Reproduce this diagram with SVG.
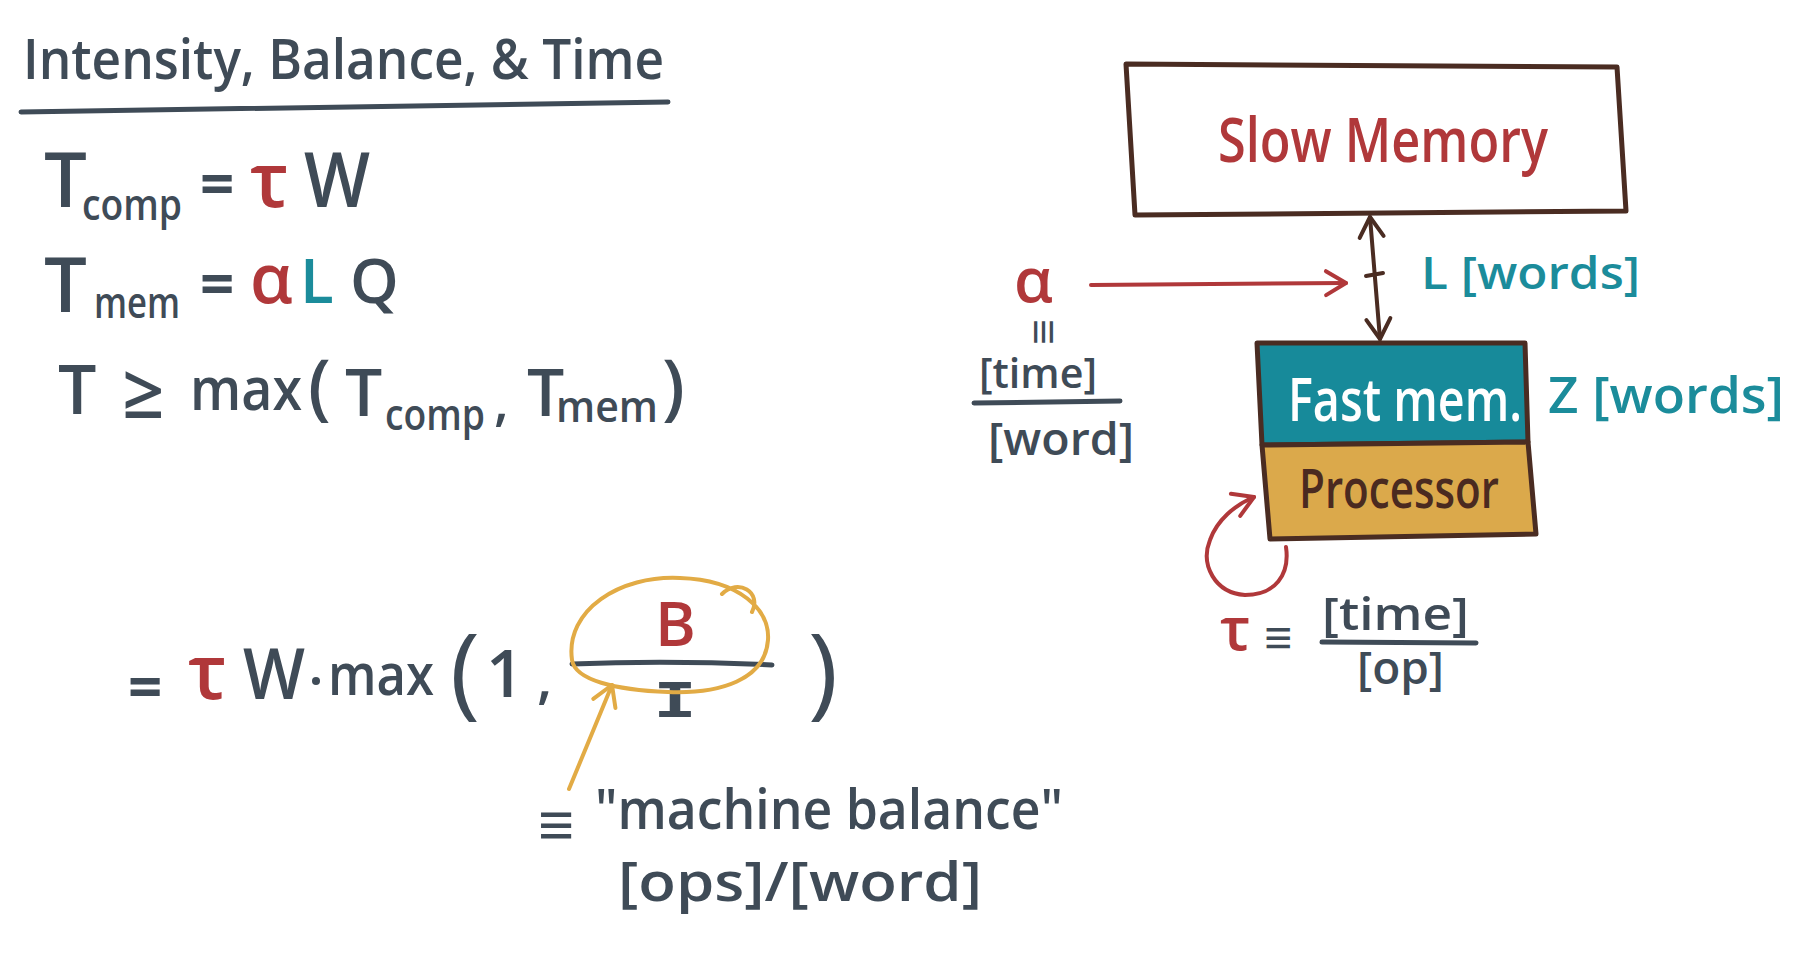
<svg xmlns="http://www.w3.org/2000/svg" width="1811" height="955" viewBox="0 0 1811 955">
<defs>
<style>
text{font-family:"Open Sans","Liberation Sans",sans-serif;font-weight:600}
.ink{fill:#3f4b57}
.red{fill:#b0383a}
.teal{fill:#1b8c9b}
.brown{fill:#4a2a20}
.white{fill:#ffffff}
.thin{font-weight:400}
.bold{font-weight:700}
.mono{font-family:"DejaVu Sans Mono",monospace;font-weight:700}
.box{stroke:#4a2c22;stroke-width:5;stroke-linejoin:round}
.inkline{stroke:#3f4b57;stroke-width:5;stroke-linecap:round;fill:none}
</style>
<marker id="vBrown" markerWidth="8" markerHeight="8" refX="6" refY="4" orient="auto-start-reverse" markerUnits="strokeWidth"><path d="M1 1 L6 4 L1 7" fill="none" stroke="#4a2c22" stroke-width="1" stroke-linecap="round" stroke-linejoin="round"/></marker>
<marker id="vRed" markerWidth="8" markerHeight="8" refX="6" refY="4" orient="auto" markerUnits="strokeWidth"><path d="M1 1 L6 4 L1 7" fill="none" stroke="#b0383a" stroke-width="1" stroke-linecap="round" stroke-linejoin="round"/></marker>
<marker id="vOrange" markerWidth="8" markerHeight="8" refX="6" refY="4" orient="auto" markerUnits="strokeWidth"><path d="M1 1 L6 4 L1 7" fill="none" stroke="#e2ab45" stroke-width="1" stroke-linecap="round" stroke-linejoin="round"/></marker>
</defs>
<rect width="1811" height="955" fill="#ffffff"/>

<g id="title">
<text class="ink" x="23" y="79" font-size="56" textLength="641" lengthAdjust="spacingAndGlyphs">Intensity, Balance, &amp; Time</text>
<path class="inkline" d="M21 112 L668 102"/>
</g>

<g id="eq-comp">
<text class="ink" x="44" y="207" font-size="76">T</text>
<text class="ink" x="82" y="220" font-size="44" textLength="100" lengthAdjust="spacingAndGlyphs">comp</text>
<text class="ink bold" x="200" y="205" font-size="60">=</text>
<text class="red" x="250" y="207" font-size="76">τ</text>
<text class="ink" x="304" y="207" font-size="76" textLength="66" lengthAdjust="spacingAndGlyphs">W</text>
</g>

<g id="eq-mem">
<text class="ink" x="44" y="312" font-size="76">T</text>
<text class="ink" x="94" y="318" font-size="44" textLength="86" lengthAdjust="spacingAndGlyphs">mem</text>
<text class="ink bold" x="200" y="305" font-size="60">=</text>
<text class="red" x="250" y="303" font-size="68">α</text>
<text class="teal" x="300" y="303" font-size="62">L</text>
<text class="ink" x="350" y="303" font-size="62">Q</text>
</g>

<g id="eq-max">
<text class="ink" x="58" y="414" font-size="68">T</text>
<text class="ink" x="122" y="418" font-size="74">≥</text>
<text class="ink" x="190" y="410" font-size="60" textLength="112" lengthAdjust="spacingAndGlyphs">max</text>
<text class="ink" x="308" y="412" font-size="72">(</text>
<text class="ink" x="345" y="416" font-size="66">T</text>
<text class="ink" x="385" y="430" font-size="44" textLength="100" lengthAdjust="spacingAndGlyphs">comp</text>
<text class="ink" x="494" y="420" font-size="54">,</text>
<text class="ink" x="527" y="416" font-size="66">T</text>
<text class="ink" x="556" y="422" font-size="44" textLength="102" lengthAdjust="spacingAndGlyphs">mem</text>
<text class="ink" x="662" y="412" font-size="72">)</text>
</g>

<g id="eq-balance">
<text class="ink bold" x="128" y="708" font-size="60">=</text>
<text class="red" x="188" y="699" font-size="76">τ</text>
<text class="ink" x="243" y="699" font-size="70" textLength="62" lengthAdjust="spacingAndGlyphs">W</text>
<circle cx="316" cy="681" r="4" fill="#3f4b57"/>
<text class="ink" x="328" y="695" font-size="58" textLength="106" lengthAdjust="spacingAndGlyphs">max</text>
<text class="ink thin" x="450" y="706" font-size="100" textLength="30" lengthAdjust="spacingAndGlyphs">(</text>
<text class="ink" x="486" y="697" font-size="66">1</text>
<text class="ink" x="537" y="698" font-size="56">,</text>
<text class="red" x="655" y="646" font-size="62">B</text>
<path class="inkline" d="M572 664 Q670 660 772 665"/>
<text class="ink mono" x="653" y="717" font-size="48" textLength="44" lengthAdjust="spacingAndGlyphs">I</text>
<text class="ink thin" x="808" y="706" font-size="100" textLength="30" lengthAdjust="spacingAndGlyphs">)</text>
<path d="M572 660 C565 610 620 575 680 578 C740 580 770 610 768 640 C765 680 720 694 668 692 C615 690 575 680 572 660 Z M722 594 C738 578 762 592 752 612" fill="none" stroke="#e2ab45" stroke-width="4" stroke-linecap="round"/>
</g>

<g id="machine-balance">
<text class="ink bold" x="538" y="846" font-size="62">≡</text>
<text class="ink" x="595" y="829" font-size="56" textLength="468" lengthAdjust="spacingAndGlyphs">"machine balance"</text>
<text class="ink" x="618" y="901" font-size="54" textLength="364" lengthAdjust="spacingAndGlyphs">[ops]/[word]</text>
</g>

<g id="slow-memory">
<polygon class="box" points="1126,64 1617,67 1626,211 1135,215" fill="#ffffff"/>
<text class="red" x="1218" y="162" font-size="62" textLength="330" lengthAdjust="spacingAndGlyphs">Slow Memory</text>
</g>

<g id="fast-mem">
<polygon class="box" points="1257,343 1525,343 1528,442 1262,445" fill="#178a9a"/>
<text class="white" x="1288" y="421" font-size="60" textLength="234" lengthAdjust="spacingAndGlyphs">Fast mem.</text>
</g>

<g id="processor">
<polygon class="box" points="1262,445 1528,442 1536,534 1270,539" fill="#dba94b"/>
<text class="brown" x="1299" y="508" font-size="54" textLength="200" lengthAdjust="spacingAndGlyphs">Processor</text>
</g>

<g id="labels-right">
<text class="teal" x="1421" y="289" font-size="46" textLength="219" lengthAdjust="spacingAndGlyphs">L [words]</text>
<text class="teal" x="1548" y="413" font-size="50" textLength="236" lengthAdjust="spacingAndGlyphs">Z [words]</text>
<text class="red" x="1014" y="302" font-size="62">α</text>
<text class="ink bold" x="1043" y="332" font-size="44" text-anchor="middle" transform="rotate(90 1043 332)" dy="14">≡</text>
<text class="ink" x="979" y="388" font-size="42" textLength="118" lengthAdjust="spacingAndGlyphs">[time]</text>
<path class="inkline" d="M974 403 L1120 401"/>
<text class="ink" x="988" y="455" font-size="46" textLength="146" lengthAdjust="spacingAndGlyphs">[word]</text>
<text class="red" x="1220" y="650" font-size="60">τ</text>
<text class="ink bold" x="1264" y="654" font-size="48">≡</text>
<text class="ink" x="1322" y="630" font-size="46" textLength="147" lengthAdjust="spacingAndGlyphs">[time]</text>
<path class="inkline" d="M1322 642 L1476 643"/>
<text class="ink" x="1357" y="684" font-size="46" textLength="87" lengthAdjust="spacingAndGlyphs">[op]</text>
</g>

<g id="connectors">
<path d="M1370 217 L1380 339" fill="none" stroke="#4a2c22" stroke-width="4" stroke-linecap="round" marker-start="url(#vBrown)" marker-end="url(#vBrown)"/>
<path d="M1366 276 L1383 273" fill="none" stroke="#4a2c22" stroke-width="4" stroke-linecap="round"/>
<path d="M1091 285 L1346 283" fill="none" stroke="#b0383a" stroke-width="4" stroke-linecap="round" marker-end="url(#vRed)"/>
<path d="M1286 547 C1290 575 1275 595 1245 595 C1215 593 1200 565 1210 540 C1217 520 1235 505 1254 497" fill="none" stroke="#b0383a" stroke-width="4" stroke-linecap="round" marker-end="url(#vRed)"/>
<path d="M569 789 L612 685" fill="none" stroke="#e2ab45" stroke-width="4" stroke-linecap="round" marker-end="url(#vOrange)"/>
</g>
</svg>
